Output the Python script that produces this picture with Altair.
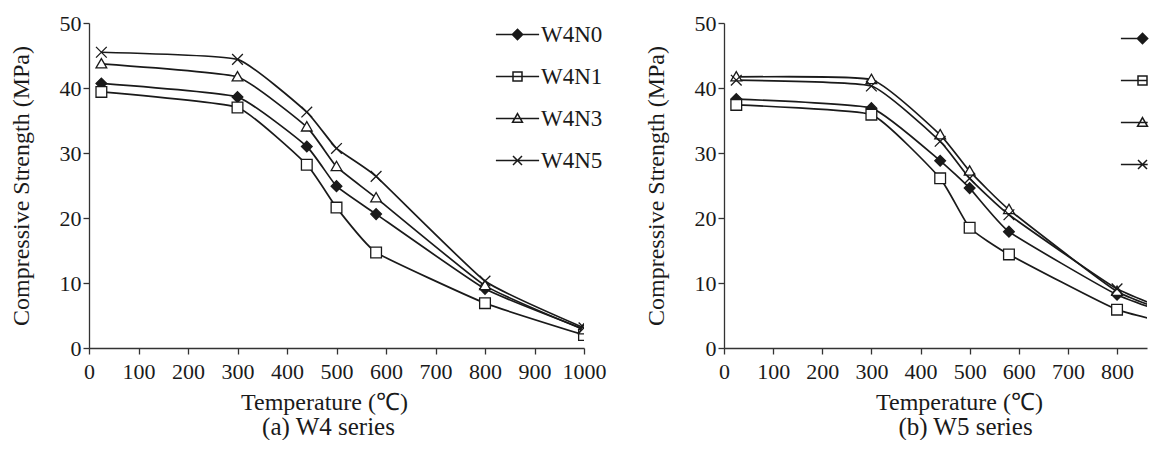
import altair as alt
import pandas as pd

temps = [25, 300, 440, 500, 580, 800, 1000]

w4_names = ["W4N0", "W4N1", "W4N3", "W4N5"]
w4_values = {
    "W4N0": [40.7, 38.6, 31.0, 24.9, 20.6, 9.1, 2.9],
    "W4N1": [39.4, 37.0, 28.2, 21.6, 14.7, 6.9, 2.0],
    "W4N3": [43.7, 41.7, 34.0, 27.9, 23.1, 9.6, 2.8],
    "W4N5": [45.5, 44.4, 36.3, 30.7, 26.4, 10.3, 3.1],
}
w5_names = ["W5N0", "W5N1", "W5N3", "W5N5"]
w5_values = {
    "W5N0": [38.3, 36.9, 28.8, 24.6, 17.9, 8.2, 2.8],
    "W5N1": [37.4, 35.9, 26.1, 18.5, 14.4, 5.9, 2.3],
    "W5N3": [41.7, 41.3, 32.8, 27.2, 21.3, 8.7, 3.0],
    "W5N5": [41.2, 40.3, 31.8, 26.1, 20.5, 9.1, 3.0],
}

x_ticks = list(range(0, 1001, 100))
y_ticks = list(range(0, 51, 10))

FONT = "Liberation Serif"
INK = "#1a1a1a"

marker_paths = [
    "M0,-1L1,0L0,1L-1,0Z",
    "M-1,-1L1,-1L1,1L-1,1Z",
    "M0,-1L1,0.75L-1,0.75Z",
    "M-1,-1L1,1M-1,1L1,-1",
]
mark_parts = [
    "M0,-1.15L1.15,0L0,1.15L-1.15,0Z",
    "M-1,-1L1,-1L1,1L-1,1Z",
    "M0,-1.1L1.1,0.85L-1.1,0.85Z",
    "M-1,-1L1,1M-1,1L1,-1",
]
fills = [INK, "white", "white", "white"]


def panel(names, values, caption, xmax, width, cap_offset, cap_dx,
          leg_x, leg_y, line_right, show_labels):
    rows = []
    for n in names:
        for t, v in zip(temps, values[n]):
            rows.append({"T": t, "S": v, "series": n})
    df = pd.DataFrame(rows)

    x = alt.X(
        "T:Q",
        scale=alt.Scale(domain=[0, xmax], nice=False),
        axis=alt.Axis(
            values=[v for v in x_ticks if v <= xmax], format="d",
            title="Temperature (℃)", titleX=235, titlePadding=8,
            labelFlush=False, labelPadding=7,
        ),
    )
    y = alt.Y(
        "S:Q",
        scale=alt.Scale(domain=[0, 50], nice=False),
        axis=alt.Axis(values=y_ticks, title="Compressive Strength (MPa)", titlePadding=26),
    )

    lines = alt.Chart(df).mark_line(
        interpolate="cardinal", tension=0.6, color=INK, strokeWidth=1.7, clip=True
    ).encode(x=x, y=y, detail="series:N")

    points = alt.Chart(df).mark_point(
        filled=True, stroke=INK, strokeWidth=1.3, size=115, opacity=1, clip=True
    ).encode(
        x=x,
        y=y,
        shape=alt.Shape(
            "series:N", scale=alt.Scale(domain=names, range=marker_paths), legend=None
        ),
        fill=alt.Fill(
            "series:N", scale=alt.Scale(domain=names, range=fills), legend=None
        ),
    )

    legend_paths = [f"M-4.8,0L{line_right},0" + p for p in mark_parts]
    leg_kwargs = dict(
        orient="none", legendX=leg_x, legendY=leg_y, title=None,
        labelFont=FONT, labelFontSize=23, labelColor=INK,
        symbolSize=81, symbolStrokeWidth=1.5,
        rowPadding=18,
    )
    if show_labels:
        leg_kwargs["labelOffset"] = 12
    else:
        leg_kwargs["labelOffset"] = 0
        leg_kwargs["labelExpr"] = "''"
    legend_spec = alt.Legend(**leg_kwargs)

    key = alt.Chart(df).transform_filter("false").mark_point(
        filled=True, strokeWidth=1.5, size=81, opacity=1
    ).encode(
        x=x,
        y=y,
        shape=alt.Shape(
            "series:N", scale=alt.Scale(domain=names, range=legend_paths),
            legend=legend_spec,
        ),
        fill=alt.Fill(
            "series:N", scale=alt.Scale(domain=names, range=fills),
            legend=legend_spec,
        ),
        stroke=alt.Stroke(
            "series:N", scale=alt.Scale(domain=names, range=[INK] * len(names)),
            legend=legend_spec,
        ),
    )

    return alt.layer(lines, points, key).resolve_scale(
        shape="independent", fill="independent", stroke="independent"
    ).properties(
        width=width, height=325,
        title=alt.TitleParams(
            caption, orient="bottom", anchor="middle", frame="group",
            font=FONT, fontSize=25, fontWeight="normal", color=INK,
            offset=cap_offset, dx=cap_dx,
        ),
    )


left = panel(w4_names, w4_values, "(a) W4 series", 1000, 495, 1, -8,
             417, 0, 4.8, True)
right = panel(w5_names, w5_values, "(b) W5 series", 861, 423, 1, 30,
              407, 4, 1.15, False)

chart = alt.hconcat(left, right, spacing=38).properties(
    padding={"left": 1, "top": 4, "right": 0, "bottom": 0}
).configure_view(stroke=None).configure_axis(
    grid=False,
    domainColor="#333",
    tickColor="#333",
    domainWidth=1.3,
    tickWidth=1.3,
    tickSize=6,
    labelPadding=2,
    labelFont=FONT,
    labelFontSize=22,
    labelColor=INK,
    titleFont=FONT,
    titleFontSize=24,
    titleFontWeight="normal",
    titleColor=INK,
).configure_legend(padding=0)

chart.save("out.html", embed_options={"renderer": "svg", "actions": False})
